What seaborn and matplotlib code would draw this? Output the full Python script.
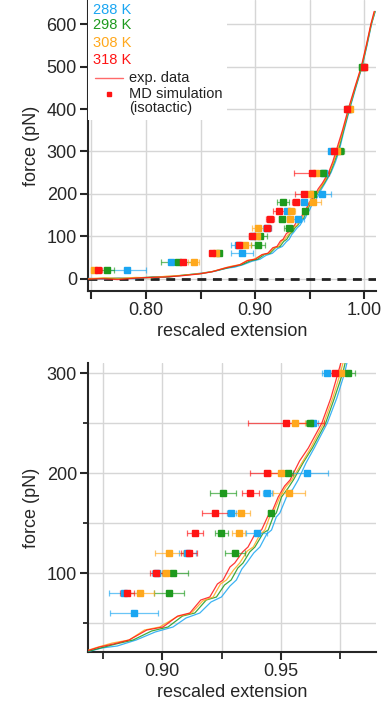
import matplotlib
matplotlib.use("Agg")
import matplotlib.pyplot as plt
import matplotlib.ticker as mticker
from matplotlib.patches import Rectangle
from matplotlib.lines import Line2D
import seaborn as sns
import pandas as pd

# ---------------- data ----------------
temps = ["288 K", "298 K", "308 K", "318 K"]
colors = ["#1AA6F2", "#1E9A1E", "#FFA81C", "#FF1414"]

# MD simulation (isotactic): force levels and rescaled extension +/- error
md_force = [20, 40, 60, 80, 100, 120, 140, 160, 180, 200, 250, 300, 400, 500]
md_ext_288 = [0.7830, 0.8233, 0.8880, 0.8840, 0.8978, 0.9105, 0.9397, 0.9291, 0.9443, 0.9608, 0.9635, 0.9694, 0.9860, 0.9985]
md_err_288 = [0.0166, 0.0020, 0.0102, 0.0065, 0.0020, 0.0036, 0.0046, 0.0020, 0.0020, 0.0088, 0.0020, 0.0020, 0.0020, 0.0020]
md_ext_298 = [0.7645, 0.8291, 0.8665, 0.9028, 0.9045, 0.9308, 0.9249, 0.9456, 0.9256, 0.9530, 0.9624, 0.9781, 0.9850, 0.9975]
md_err_298 = [0.0065, 0.0150, 0.0015, 0.0065, 0.0065, 0.0042, 0.0028, 0.0012, 0.0056, 0.0020, 0.0020, 0.0030, 0.0020, 0.0020]
md_ext_308 = [0.7525, 0.8437, 0.8640, 0.8908, 0.9017, 0.9028, 0.9322, 0.9333, 0.9533, 0.9499, 0.9560, 0.9754, 0.9870, 1.0000]
md_err_308 = [0.0025, 0.0050, 0.0020, 0.0058, 0.0020, 0.0058, 0.0028, 0.0035, 0.0067, 0.0040, 0.0040, 0.0020, 0.0020, 0.0020]
md_ext_318 = [0.7565, 0.8340, 0.8605, 0.8851, 0.8975, 0.9111, 0.9137, 0.9221, 0.9371, 0.9443, 0.9520, 0.9726, 0.9840, 0.9993]
md_err_318 = [0.0030, 0.0020, 0.0020, 0.0030, 0.0028, 0.0033, 0.0034, 0.0054, 0.0035, 0.0074, 0.0160, 0.0020, 0.0020, 0.0020]

exp_ext_288 = [0.747, 0.760, 0.775, 0.790, 0.805, 0.820, 0.835, 0.850, 0.862, 0.8745, 0.8810, 0.889, 0.8970, 0.9045, 0.9100, 0.9158, 0.9205, 0.9249, 0.9285, 0.9312, 0.9335, 0.9355, 0.9385, 0.9411, 0.9440, 0.9460, 0.9480, 0.9495, 0.9523, 0.9550, 0.9572, 0.9605, 0.9640, 0.9695, 0.9735, 0.9768, 0.9815, 0.9866, 0.9922, 0.9980, 1.0025, 1.0066, 1.0100]
exp_f_288 = [1, -1, 2, 0, 3, 5, 8, 13, 17, 25, 27, 33, 41, 46, 55, 60, 71, 76, 87, 93, 104, 110, 120, 126, 139, 143, 156, 160, 176, 184, 193, 210, 225, 250, 275, 300, 350, 400, 450, 500, 550, 600, 630]
exp_ext_298 = [0.747, 0.762, 0.777, 0.792, 0.806, 0.821, 0.836, 0.851, 0.863, 0.8740, 0.8805, 0.8877, 0.8955, 0.9024, 0.9085, 0.9137, 0.9185, 0.9228, 0.9262, 0.9290, 0.9318, 0.9340, 0.9368, 0.9390, 0.9425, 0.9446, 0.9468, 0.9480, 0.9502, 0.9530, 0.9552, 0.9595, 0.9632, 0.9688, 0.9725, 0.9760, 0.9810, 0.9862, 0.9918, 0.9978, 1.0022, 1.0064, 1.0098]
exp_f_298 = [-1, 1, 0, 2, 4, 4, 9, 12, 18, 25, 29, 33, 42, 46, 57, 60, 73, 76, 88, 93, 105, 110, 121, 126, 140, 143, 157, 160, 176, 185, 193, 211, 225, 250, 275, 300, 350, 400, 450, 500, 550, 600, 630]
exp_ext_308 = [0.747, 0.761, 0.776, 0.791, 0.804, 0.819, 0.834, 0.849, 0.861, 0.8730, 0.8790, 0.8860, 0.8925, 0.8989, 0.9060, 0.9123, 0.9170, 0.9214, 0.9245, 0.9270, 0.9300, 0.9326, 0.9358, 0.9383, 0.9410, 0.9432, 0.9455, 0.9467, 0.9495, 0.9520, 0.9545, 0.9585, 0.9625, 0.9680, 0.9718, 0.9750, 0.9805, 0.9858, 0.9915, 0.9975, 1.0020, 1.0062, 1.0095]
exp_f_308 = [0, 2, 1, 3, 2, 6, 8, 12, 17, 26, 30, 33, 43, 46, 56, 60, 72, 76, 89, 93, 103, 110, 122, 126, 138, 143, 158, 160, 176, 186, 193, 209, 225, 250, 275, 300, 350, 400, 450, 500, 550, 600, 630]
exp_ext_318 = [0.747, 0.759, 0.774, 0.789, 0.803, 0.818, 0.833, 0.848, 0.860, 0.8736, 0.8795, 0.8860, 0.8935, 0.9003, 0.9065, 0.9116, 0.9162, 0.9200, 0.9232, 0.9256, 0.9285, 0.9305, 0.9338, 0.9361, 0.9395, 0.9418, 0.9445, 0.9460, 0.9488, 0.9515, 0.9538, 0.9578, 0.9615, 0.9672, 0.9710, 0.9740, 0.9800, 0.9853, 0.9912, 0.9972, 1.0018, 1.0060, 1.0090]
exp_f_318 = [-1, 0, -2, 1, 3, 4, 7, 11, 16, 26, 29, 33, 43, 46, 57, 60, 73, 76, 89, 93, 106, 110, 121, 126, 141, 143, 157, 160, 176, 187, 193, 212, 225, 250, 275, 300, 350, 400, 450, 500, 550, 600, 630]

md_ext = [md_ext_288, md_ext_298, md_ext_308, md_ext_318]
md_err = [md_err_288, md_err_298, md_err_308, md_err_318]
exp_ext = [exp_ext_288, exp_ext_298, exp_ext_308, exp_ext_318]
exp_f = [exp_f_288, exp_f_298, exp_f_308, exp_f_318]

# ---------------- style ----------------
sns.set_style("ticks")
plt.rcParams["font.family"] = ["Liberation Sans", "DejaVu Sans"]
plt.rcParams["axes.linewidth"] = 1.5

W, H = 382, 709
fig = plt.figure(figsize=(W / 100, H / 100), dpi=100)
ax1 = fig.add_axes([88 / W, 1 - 291 / H, 288 / W, 291 / H])
ax2 = fig.add_axes([88 / W, 1 - 652 / H, 288 / W, 289 / H])

grid_c = "#d6d6d6"


def draw(ax):
    for i in range(4):
        df = pd.DataFrame({"ext": exp_ext[i], "force": exp_f[i]})
        sns.lineplot(data=df, x="ext", y="force", ax=ax, color=colors[i],
                     lw=0.9, alpha=0.85, sort=False, estimator=None, zorder=3)
    for i in range(4):
        ax.errorbar(md_ext[i], md_force, xerr=md_err[i], fmt="none",
                    ecolor=colors[i], alpha=0.65, elinewidth=0.9, capsize=2.3,
                    capthick=0.9, zorder=4)
        ax.plot(md_ext[i], md_force, ls="none", marker="s", ms=3.9,
                color=colors[i], mec=colors[i], zorder=5)
    for s in ["top", "right"]:
        ax.spines[s].set_visible(False)
    ax.set_xlabel("rescaled extension", fontsize=13, labelpad=3)
    ax.set_ylabel("force (pN)", fontsize=13, labelpad=5)
    ax.tick_params(axis="both", which="major", labelsize=13, length=6,
                   width=1.5, pad=2)
    ax.tick_params(axis="both", which="minor", length=3.5, width=1.3)


# top panel
draw(ax1)
ax1.axhline(0, color="#222222", lw=2.0, dashes=(3.2, 2.4), zorder=2)
ax1.set_xlim(0.7469, 1.0107)
ax1.set_ylim(-29, 657)
ax1.set_xticks([0.75, 0.80, 0.85, 0.90, 0.95, 1.00])
ax1.set_xticklabels(["", "0.80", "", "0.90", "", "1.00"])
ax1.set_yticks([0, 100, 200, 300, 400, 500, 600])
ax1.grid(True, color=grid_c, lw=1.0, zorder=0)
ax1.set_axisbelow(True)

# legend area (white box, coloured temperature labels, line + marker entries)
ax1.add_patch(Rectangle((0.0, 0.587), 0.483, 0.42, transform=ax1.transAxes,
                        facecolor="white", edgecolor="none", zorder=6))


def ypx(y):
    return (291 - y) / 291


def xpx(x):
    return (x - 88) / 288


for i, yc in enumerate([10, 24.7, 42.7, 60.3]):
    ax1.text(xpx(93), ypx(yc), temps[i], color=colors[i], fontsize=10.5,
             va="center", ha="left", transform=ax1.transAxes, zorder=7)
ax1.add_line(Line2D([xpx(95), xpx(123)], [ypx(77.7), ypx(77.7)],
                    transform=ax1.transAxes, color="#FF6A6A", lw=1.0, zorder=7))
ax1.text(xpx(129), ypx(77.7), "exp. data", fontsize=10.5, va="center",
         ha="left", transform=ax1.transAxes, zorder=7, color="#222222")
ax1.add_line(Line2D([xpx(109.3)], [ypx(94.3)], transform=ax1.transAxes,
                    ls="none", marker="s", ms=3.5, color="#FF1414", zorder=7))
ax1.text(xpx(129), ypx(101), "MD simulation\n(isotactic)", fontsize=10.5,
         va="center", ha="left", transform=ax1.transAxes, zorder=7,
         color="#222222", linespacing=1.0)

# bottom panel
draw(ax2)
ax2.set_xlim(0.8687, 0.990)
ax2.set_ylim(21, 310)
ax2.set_xticks([0.90, 0.95])
ax2.set_xticklabels(["0.90", "0.95"])
ax2.xaxis.set_minor_locator(mticker.FixedLocator([0.875, 0.925, 0.975]))
ax2.set_yticks([100, 200, 300])
ax2.yaxis.set_minor_locator(mticker.FixedLocator([50, 150, 250]))
ax2.tick_params(axis="x", which="minor", length=5)
ax2.grid(True, which="both", color=grid_c, lw=1.0, zorder=0)
ax2.set_axisbelow(True)

fig.savefig("out.png", dpi=100)
